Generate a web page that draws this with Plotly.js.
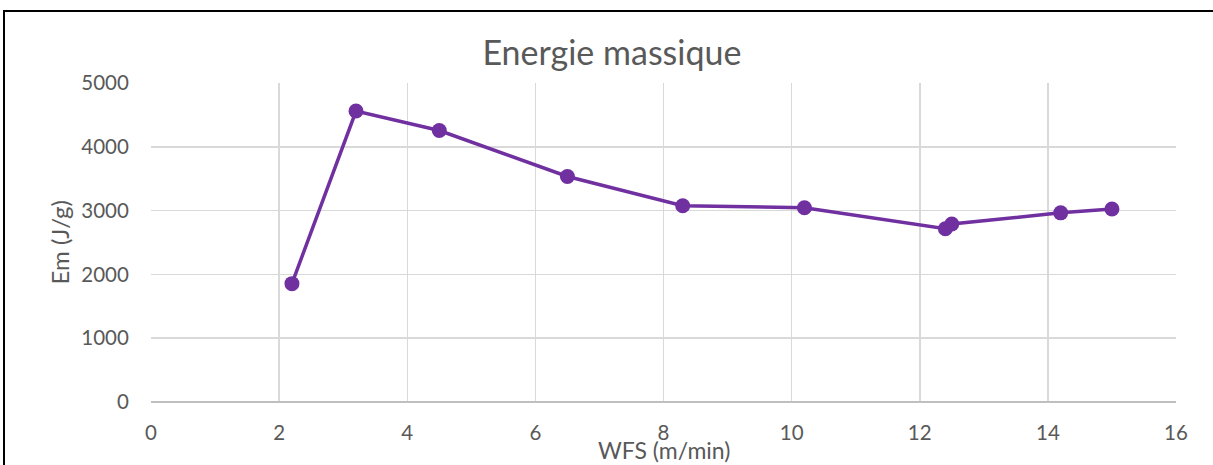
<!DOCTYPE html>
<html>
<head>
<meta charset="utf-8">
<script src="https://cdn.plot.ly/plotly-3.0.1.min.js"></script>
<style>
html,body{margin:0;padding:0;background:#fff;}
#wrap{position:relative;width:1213px;height:465px;overflow:hidden;}
#chart{position:absolute;left:0;top:0;width:1213px;height:465px;}
#frame{position:absolute;left:3px;top:10px;width:1300px;height:600px;border-top:2px solid #000;border-left:2px solid #000;pointer-events:none;}
</style>
</head>
<body>
<div id="wrap"><div id="chart"></div><div id="frame"></div></div>
<script>
const chartTitle = "Energie massique";
const xTitle = "WFS (m/min)";
const yTitle = "Em (J/g)";
const wfs = [2.2, 3.2, 4.5, 6.5, 8.3, 10.2, 12.4, 12.5, 14.2, 15];
const em = [1855, 4560, 4255, 3535, 3075, 3045, 2715, 2790, 2965, 3025];
const xTicks = [0, 2, 4, 6, 8, 10, 12, 14, 16];
const yTicks = [0, 1000, 2000, 3000, 4000, 5000];

const font = "Lato, 'Open Sans', sans-serif";
const grey = "#595959";

const trace = {
  x: wfs, y: em, type: "scatter", mode: "lines+markers",
  line: {color: "#7030a0", width: 3.5},
  marker: {color: "#7030a0", size: 15},
  hoverinfo: "x+y"
};

const layout = {
  width: 1213, height: 465,
  margin: {l: 151, r: 37, t: 83, b: 62.5},
  paper_bgcolor: "#fff", plot_bgcolor: "#fff",
  showlegend: false,
  title: {text: chartTitle, x: 0.5045, xanchor: "center", y: 0.886, yanchor: "middle",
          font: {family: font, size: 34, color: grey}},
  xaxis: {
    range: [0, 16], tickvals: xTicks, ticktext: xTicks.map(String),
    showgrid: true, gridcolor: "#d9d9d9", gridwidth: 1.5,
    zeroline: false, showline: false,
    ticks: "outside", ticklen: 12, tickcolor: "rgba(0,0,0,0)",
    tickfont: {family: font, size: 20.5, color: grey},
    automargin: false, fixedrange: true
  },
  yaxis: {
    range: [0, 5000], tickvals: yTicks, ticktext: yTicks.map(String),
    showgrid: true, gridcolor: "#d9d9d9", gridwidth: 1.5,
    zeroline: true, zerolinecolor: "#bfbfbf", zerolinewidth: 1.5, showline: false,
    ticks: "outside", ticklen: 17, tickcolor: "rgba(0,0,0,0)",
    tickfont: {family: font, size: 20.5, color: grey},
    automargin: false, fixedrange: true
  },
  annotations: [
    {text: xTitle, xref: "paper", yref: "paper", x: 0.5, y: -0.152,
     xanchor: "center", yanchor: "middle", showarrow: false,
     font: {family: font, size: 23, color: grey}},
    {text: yTitle, xref: "paper", yref: "paper", x: -0.0888, y: 0.5,
     xanchor: "center", yanchor: "middle", textangle: -90, showarrow: false,
     font: {family: font, size: 24, color: grey}}
  ]
};

Plotly.newPlot("chart", [trace], layout, {displayModeBar: false, staticPlot: true});
</script>
</body>
</html>
